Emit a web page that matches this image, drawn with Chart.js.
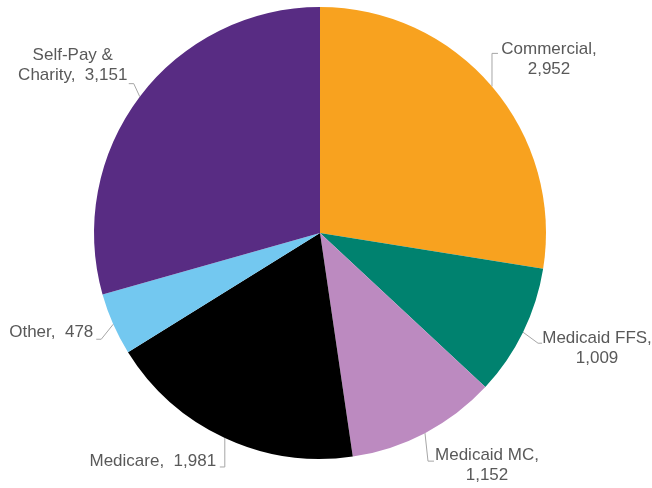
<!DOCTYPE html>
<html>
<head>
<meta charset="utf-8">
<script src="https://cdn.jsdelivr.net/npm/chart.js@4/dist/chart.umd.min.js"></script>
<style>
  body { margin: 0; background: #fff; }
  canvas { display: block; }
</style>
</head>
<body>
<canvas id="payerChart" width="652" height="488"></canvas>
<script>
const categories = ['Commercial', 'Medicaid FFS', 'Medicaid MC', 'Medicare', 'Other', 'Self-Pay & Charity'];
const visits = [2952, 1009, 1152, 1981, 478, 3151];
const sliceColors = ['#F8A21F', '#00826F', '#BC8AC0', '#000000', '#73C8F0', '#582C83'];

const fmt = v => v.toLocaleString('en-US');

// how each label is broken into lines, plus where it sits relative to the slice edge
const labelLayout = [
    { lines: (n, v) => [n + ',', fmt(v)], elbow: [0, -33], tick: 6, text: [57, -27] },
    { lines: (n, v) => [n + ',', fmt(v)], elbow: [15, 11], tick: 4, text: [74, 16] },
    { lines: (n, v) => [n + ',', fmt(v)], elbow: [3, 28], tick: 6, text: [62, 32] },
    { lines: (n, v) => [n + ',  ' + fmt(v)], elbow: [0, 29], tick: -5, text: [-72, 23] },
    { lines: (n, v) => [n + ',  ' + fmt(v)], elbow: [-12, 15], tick: -5, text: [-62, 8] },
    { lines: (n, v) => ['Self-Pay &', 'Charity,  ' + fmt(v)], elbow: [-6, -13], tick: -5, text: [-67, -31] }
];

const leaderLabels = {
    id: 'leaderLabels',
    afterDraw(chart) {
        const ctx = chart.ctx;
        const arcs = chart.getDatasetMeta(0).data;
        ctx.save();
        ctx.font = '17px "Liberation Sans", Arial, sans-serif';
        ctx.textAlign = 'center';
        ctx.textBaseline = 'middle';
        arcs.forEach((arc, i) => {
            const p = arc.getProps(['x', 'y', 'startAngle', 'endAngle', 'outerRadius'], true);
            const mid = (p.startAngle + p.endAngle) / 2;
            const ex = p.x + Math.cos(mid) * p.outerRadius;
            const ey = p.y + Math.sin(mid) * p.outerRadius;
            const lay = labelLayout[i];
            const bx = ex + lay.elbow[0];
            const by = ey + lay.elbow[1];

            ctx.strokeStyle = '#A6A6A6';
            ctx.lineWidth = 1;
            ctx.beginPath();
            ctx.moveTo(ex, ey);
            ctx.lineTo(bx, by);
            ctx.lineTo(bx + lay.tick, by);
            ctx.stroke();

            const lines = lay.lines(categories[i], visits[i]);
            const lh = 20;
            const cx = ex + lay.text[0];
            const cy = ey + lay.text[1] - (lines.length - 1) * lh / 2;
            ctx.fillStyle = '#595959';
            lines.forEach((t, k) => ctx.fillText(t, cx, cy + k * lh));
        });
        ctx.restore();
    }
};

new Chart(document.getElementById('payerChart'), {
    type: 'pie',
    data: {
        labels: categories,
        datasets: [{
            data: visits,
            backgroundColor: sliceColors,
            borderWidth: 0
        }]
    },
    options: {
        responsive: false,
        animation: false,
        layout: { padding: { left: 94, right: 106, top: 7, bottom: 29 } },
        plugins: {
            legend: { display: false },
            tooltip: { enabled: false }
        }
    },
    plugins: [leaderLabels]
});
</script>
</body>
</html>
